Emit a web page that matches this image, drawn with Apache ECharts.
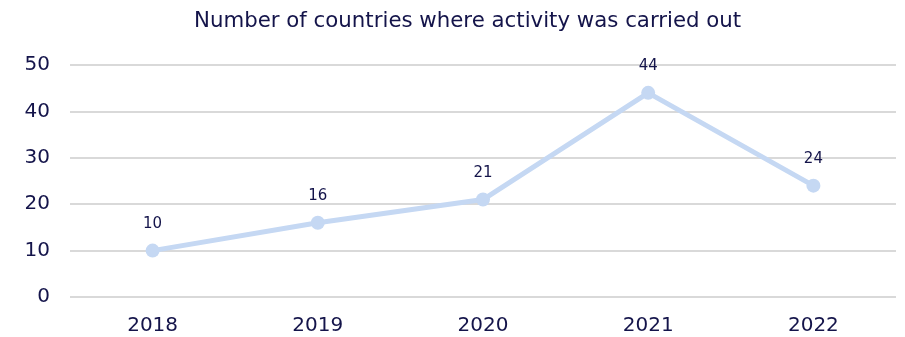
<!DOCTYPE html>
<html>
<head>
<meta charset="utf-8">
<script src="https://cdn.jsdelivr.net/npm/echarts@6/dist/echarts.min.js"></script>
<style>
  html, body { margin: 0; padding: 0; background: #fff; }
  #chart { width: 905px; height: 337px; }
</style>
</head>
<body>
<div id="chart"></div>
<script>
// Yearly count of countries with activity
const years = ['2018', '2019', '2020', '2021', '2022'];
const countries = [10, 16, 21, 44, 24];
const yTicks = [0, 10, 20, 30, 40, 50];

const textColor = '#14144a';
const fontFamily = 'DejaVu Sans, Verdana, sans-serif';

const chart = echarts.init(document.getElementById('chart'));
chart.setOption({
  animation: false,
  title: {
    text: 'Number of countries where activity was carried out',
    left: 189,
    top: 6,
    textStyle: { color: textColor, fontSize: 21.3, fontWeight: 'normal', fontFamily }
  },
  grid: { left: 70, right: 9, top: 65, bottom: 40 },
  xAxis: {
    type: 'category',
    data: years,
    boundaryGap: true,
    axisLine: { show: false },
    axisTick: { show: false },
    axisLabel: { color: textColor, fontSize: 20, fontFamily, margin: 19 }
  },
  yAxis: {
    type: 'value',
    min: yTicks[0],
    max: yTicks[yTicks.length - 1],
    interval: 10,
    axisLine: { show: false },
    axisTick: { show: false },
    axisLabel: { color: textColor, fontSize: 20, fontFamily, margin: 20 },
    splitLine: { lineStyle: { color: '#d9d9d9', width: 2 } }
  },
  series: [{
    type: 'line',
    data: countries,
    symbol: 'circle',
    symbolSize: 14,
    lineStyle: { color: '#c5d8f3', width: 5 },
    itemStyle: { color: '#c5d8f3' },
    label: {
      show: true,
      position: 'top',
      distance: 12,
      color: textColor,
      fontSize: 15,
      fontFamily
    }
  }]
});
</script>
</body>
</html>
